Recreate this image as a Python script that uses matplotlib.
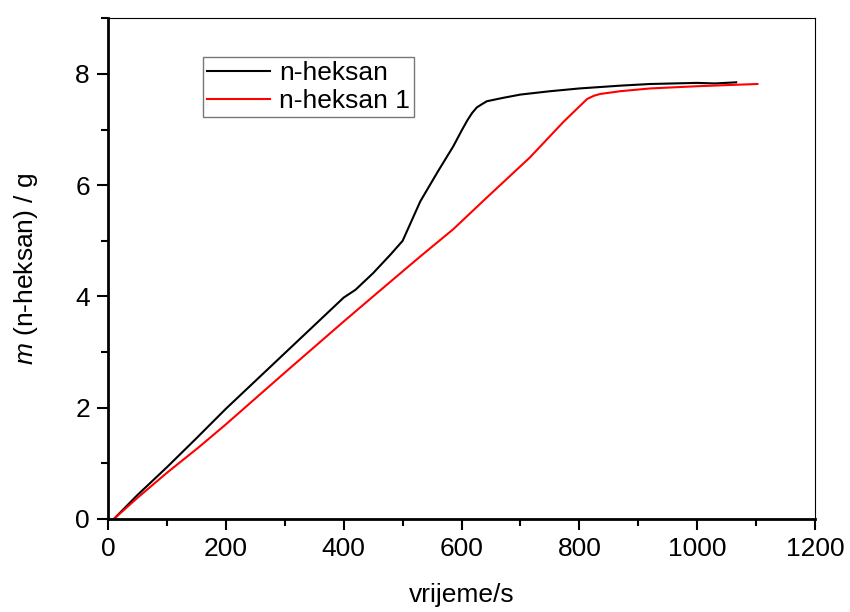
import matplotlib
matplotlib.use("Agg")
import matplotlib.pyplot as plt
from matplotlib.ticker import MultipleLocator

plt.rcParams["font.family"] = ["Liberation Sans", "DejaVu Sans"]
plt.rcParams["mathtext.fontset"] = "custom"
plt.rcParams["mathtext.it"] = "Liberation Sans:italic"
plt.rcParams["mathtext.rm"] = "Liberation Sans"

# n-heksan (black)
t_black = [10, 50, 100, 150, 200, 250, 300, 350, 400, 420, 450, 480, 500,
           530, 560, 586, 600, 610, 618, 626, 635, 643, 670, 700, 750, 800,
           869, 920, 1000, 1030, 1066]
m_black = [0.0, 0.43, 0.93, 1.45, 1.98, 2.48, 2.98, 3.48, 3.98, 4.12, 4.42,
           4.76, 5.0, 5.71, 6.25, 6.7, 6.98, 7.17, 7.3, 7.4, 7.46, 7.51,
           7.57, 7.63, 7.69, 7.74, 7.79, 7.82, 7.84, 7.83, 7.85]

# n-heksan 1 (red)
t_red = [10, 50, 100, 153, 200, 300, 400, 462, 530, 586, 643, 716, 773,
         813, 825, 835, 869, 920, 960, 1000, 1050, 1102]
m_red = [0.0, 0.38, 0.83, 1.28, 1.7, 2.63, 3.55, 4.11, 4.72, 5.21, 5.78,
         6.5, 7.14, 7.55, 7.61, 7.64, 7.69, 7.74, 7.76, 7.78, 7.8, 7.82]

fig = plt.figure(figsize=(8.5, 6.12), dpi=100)
ax = fig.add_axes([0.127, 0.152, 0.832, 0.818])

ax.plot(t_black, m_black, color="black", lw=1.5, label="n-heksan")
ax.plot(t_red, m_red, color="red", lw=1.5, label="n-heksan 1")

ax.set_xlim(0, 1200)
ax.set_ylim(0, 9)
ax.xaxis.set_major_locator(MultipleLocator(200))
ax.xaxis.set_minor_locator(MultipleLocator(100))
ax.yaxis.set_major_locator(MultipleLocator(2))
ax.yaxis.set_minor_locator(MultipleLocator(1))
ax.tick_params(which="major", direction="out", length=8, width=1.5,
               labelsize=19, top=False, right=False, pad=5)
ax.tick_params(which="minor", direction="out", length=5, width=1.5,
               top=False, right=False)

ax.spines["left"].set_linewidth(2)
ax.spines["bottom"].set_linewidth(2)
ax.spines["top"].set_linewidth(0.8)
ax.spines["right"].set_linewidth(0.8)

ax.set_xlabel("vrijeme/s", fontsize=19, labelpad=16)
ax.set_ylabel(r"$m$ (n-heksan) / g", fontsize=19, labelpad=25)

leg = ax.legend(loc="upper left", bbox_to_anchor=(0.134, 0.922), fontsize=19,
                frameon=True, fancybox=False, edgecolor="#555555",
                handlelength=2.4, handletextpad=0.35, borderpad=0.15,
                labelspacing=0.15, borderaxespad=0)
leg.get_frame().set_linewidth(1)

fig.savefig("out.png", dpi=100)
